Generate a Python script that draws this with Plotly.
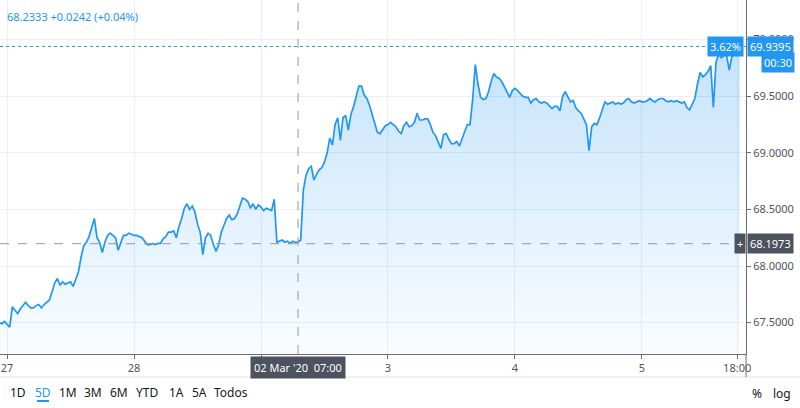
import plotly.graph_objects as go
import pandas as pd

# cotización cada 30 minutos (5D)
feb26 = [67.50, 67.49, 67.51]
feb27 = [67.48, 67.46, 67.64, 67.61, 67.58, 67.62, 67.65, 67.68, 67.65, 67.63,
         67.63, 67.65, 67.66, 67.63, 67.66, 67.68, 67.70, 67.77, 67.85, 67.89,
         67.83, 67.86, 67.84, 67.85, 67.86, 67.82, 67.88, 67.95, 68.08, 68.18,
         68.21, 68.26, 68.34, 68.42, 68.25, 68.21, 68.12, 68.21, 68.27, 68.29,
         68.27, 68.25, 68.14, 68.21, 68.27, 68.27, 68.29, 68.28]
feb28 = [68.27, 68.27, 68.26, 68.25, 68.22, 68.19, 68.19, 68.20, 68.19, 68.20,
         68.20, 68.24, 68.26, 68.30, 68.30, 68.31, 68.25, 68.35, 68.42, 68.51,
         68.55, 68.50, 68.53, 68.48, 68.37, 68.30, 68.10, 68.25, 68.29, 68.27,
         68.19, 68.13, 68.19, 68.30, 68.36, 68.42, 68.45, 68.41, 68.42, 68.46,
         68.53, 68.60, 68.59, 68.57, 68.51, 68.55, 68.50, 68.54]
mar02 = [68.52, 68.49, 68.51, 68.50, 68.49, 68.59, 68.21, 68.22, 68.23, 68.21,
         68.22, 68.20, 68.22, 68.21, 68.21, 68.23, 68.67, 68.80, 68.86, 68.88,
         68.76, 68.81, 68.85, 68.87, 68.92, 69.00, 69.13, 69.07, 69.25, 69.31,
         69.11, 69.31, 69.33, 69.20, 69.34, 69.41, 69.51, 69.59, 69.59, 69.51,
         69.48, 69.42, 69.34, 69.25, 69.18, 69.17, 69.20, 69.24]
mar03 = [69.25, 69.27, 69.25, 69.23, 69.19, 69.17, 69.24, 69.27, 69.23, 69.24,
         69.27, 69.35, 69.29, 69.29, 69.30, 69.30, 69.25, 69.18, 69.15, 69.09,
         69.04, 69.16, 69.17, 69.12, 69.08, 69.08, 69.10, 69.06, 69.13, 69.20,
         69.25, 69.25, 69.47, 69.78, 69.61, 69.49, 69.47, 69.48, 69.54, 69.63,
         69.70, 69.67, 69.66, 69.63, 69.58, 69.53, 69.49, 69.55]
mar04 = [69.57, 69.55, 69.52, 69.50, 69.49, 69.49, 69.44, 69.47, 69.48, 69.45,
         69.44, 69.45, 69.44, 69.41, 69.39, 69.41, 69.41, 69.37, 69.50, 69.54,
         69.49, 69.45, 69.46, 69.40, 69.37, 69.35, 69.30, 69.25, 69.02, 69.23,
         69.26, 69.25, 69.31, 69.38, 69.45, 69.43, 69.44, 69.45, 69.43, 69.44,
         69.43, 69.44, 69.47, 69.48, 69.45, 69.44, 69.45, 69.46]
mar05 = [69.45, 69.45, 69.46, 69.48, 69.46, 69.45, 69.47, 69.48, 69.48, 69.46,
         69.45, 69.46, 69.45, 69.46, 69.45, 69.44, 69.45, 69.40, 69.38, 69.43,
         69.48, 69.61, 69.71, 69.67, 69.69, 69.72, 69.77, 69.40, 69.80, 69.87,
         69.84, 69.86, 69.86, 69.73, 69.85, 69.87, 69.93, 69.9395]

dias = [("2020-02-26 22:30", feb26), ("2020-02-27", feb27), ("2020-02-28", feb28),
        ("2020-03-02", mar02), ("2020-03-03", mar03), ("2020-03-04", mar04),
        ("2020-03-05", mar05)]

tick_fechas = ["2020-02-27", "2020-02-28", "2020-03-02", "2020-03-03",
               "2020-03-04", "2020-03-05", "2020-03-05 18:00"]
tick_textos = ["27", "28", "Mar", "3", "4", "5", "18:00"]
precios_eje = [67.5, 68.0, 68.5, 69.0, 69.5, 70.0]

cabecera = "68.2333 +0.0242 (+0.04%)"
cambio_pct = "3.62%"
cuenta_atras = "00:30"
cursor_precio = 68.1973
cursor_hora = "2020-03-02 07:00"
cursor_texto = "02 Mar '20  07:00"
rangos = ["1D", "5D", "1M", "3M", "6M", "YTD", "1A", "5A", "Todos"]
rangos_px = [18, 43, 68, 93, 119, 147, 176, 199, 231]

t = []
v = []
for inicio, vals in dias:
    t += list(pd.date_range(inicio, periods=len(vals), freq="30min"))
    v += vals
ultimo = v[-1]

azul = "#2196f3"
oscuro = "#4c525e"
gris = "#9598a1"
fuente = "Noto Sans"

W, H = 800, 408
PW, PH = 746, 354  # área del gráfico en px

def px(x):
    return x / PW

def py(y):
    return (PH - y) / PH

fig = go.Figure()
fig.add_trace(go.Scatter(
    x=t, y=v, mode="lines",
    line=dict(color=azul, width=1.7),
    fill="tozeroy",
    fillgradient=dict(type="vertical", start=67.2, stop=70.0,
                      colorscale=[[0, "rgba(33,150,243,0.02)"],
                                  [1, "rgba(33,150,243,0.27)"]]),
    hoverinfo="skip",
))

# líneas de precio y cursor
fig.add_shape(type="line", xref="paper", x0=0, x1=1, y0=ultimo, y1=ultimo,
              line=dict(color=azul, width=1, dash="dot"))
fig.add_shape(type="line", xref="paper", x0=0, x1=1, y0=cursor_precio, y1=cursor_precio,
              line=dict(color=gris, width=1, dash="dash"))
fig.add_shape(type="line", yref="paper", x0=cursor_hora, x1=cursor_hora, y0=0, y1=1,
              line=dict(color=gris, width=1, dash="dash"))
# separador de la barra inferior
fig.add_shape(type="line", xref="paper", yref="paper", x0=0, x1=px(W), y0=py(377), y1=py(377),
              line=dict(color="#e0e3eb", width=1))
fig.add_shape(type="line", xref="paper", yref="paper", x0=1, x1=1, y0=0, y1=py(377),
              line=dict(color="#6a6d78", width=1))
fig.add_shape(type="line", xref="paper", yref="paper", x0=px(37), x1=px(49), y0=py(401), y1=py(401),
              line=dict(color=azul, width=2))

ann = [
    dict(x=px(5), y=py(16), xref="paper", yref="paper", text=cabecera, showarrow=False,
         xanchor="left", yanchor="middle", font=dict(color=azul, size=11)),
    dict(x=1, y=ultimo, xref="paper", yref="y", text=cambio_pct, showarrow=False,
         xanchor="right", yanchor="middle", xshift=-2, bgcolor=azul, borderpad=2,
         font=dict(color="white", size=11)),
    dict(x=1, y=ultimo, xref="paper", yref="y", text=f"{ultimo:.4f}", showarrow=False,
         xanchor="left", yanchor="middle", xshift=1, bgcolor=azul, borderpad=2,
         font=dict(color="white", size=11)),
    dict(x=1, y=ultimo, xref="paper", yref="y", text=cuenta_atras, showarrow=False,
         xanchor="left", yanchor="middle", xshift=15, yshift=-16, bgcolor=azul, borderpad=2,
         font=dict(color="white", size=11)),
    dict(x=1, y=cursor_precio, xref="paper", yref="y", text="+", showarrow=False,
         xanchor="right", yanchor="middle", bgcolor=oscuro, borderpad=2,
         font=dict(color="white", size=11)),
    dict(x=1, y=cursor_precio, xref="paper", yref="y", text=f"{cursor_precio:.4f}",
         showarrow=False, xanchor="left", yanchor="middle", xshift=1, bgcolor=oscuro, borderpad=2,
         font=dict(color="white", size=11)),
    dict(x=cursor_hora, y=0, xref="x", yref="paper", text=cursor_texto, showarrow=False,
         xanchor="center", yanchor="top", yshift=-2, bgcolor=oscuro, borderpad=3,
         font=dict(color="white", size=11)),
    dict(x=px(757), y=py(393), xref="paper", yref="paper", text="%", showarrow=False,
         xanchor="center", yanchor="middle", font=dict(color="#131722", size=12)),
    dict(x=px(782), y=py(393), xref="paper", yref="paper", text="log", showarrow=False,
         xanchor="center", yanchor="middle", font=dict(color="#131722", size=12)),
]
for r, xp in zip(rangos, rangos_px):
    ann.append(dict(x=px(xp), y=py(392), xref="paper", yref="paper", text=r, showarrow=False,
                    xanchor="center", yanchor="middle",
                    font=dict(color=azul if r == "5D" else "#131722", size=12)))

fig.update_layout(
    width=W, height=H,
    margin=dict(l=0, r=W - PW, t=0, b=H - PH),
    paper_bgcolor="white", plot_bgcolor="white",
    font=dict(family=fuente, color="#50535e", size=11),
    showlegend=False, hovermode=False,
    annotations=ann,
)
fig.update_xaxes(
    type="date",
    range=["2020-02-26 22:40", "2020-03-05 19:40"],
    rangebreaks=[dict(bounds=["sat", "mon"])],
    tickvals=tick_fechas, ticktext=tick_textos,
    showgrid=True, gridcolor="#eceef2",
    showline=True, linecolor="#6a6d78", linewidth=1,
    ticks="outside", ticklen=4, tickcolor="#6a6d78",
    tickfont=dict(color="#50535e", size=11),
    zeroline=False,
)
fig.update_yaxes(
    side="right", range=[67.223, 70.35],
    tickvals=precios_eje, tickformat=".4f",
    showgrid=True, gridcolor="#eceef2",
    showline=True, linecolor="#6a6d78", linewidth=1,
    ticks="outside", ticklen=4, tickcolor="#6a6d78",
    tickfont=dict(color="#50535e", size=11),
    zeroline=False,
)

fig.write_html("out.html", config={"displayModeBar": False},
               post_script="document.body.style.margin='0';")
